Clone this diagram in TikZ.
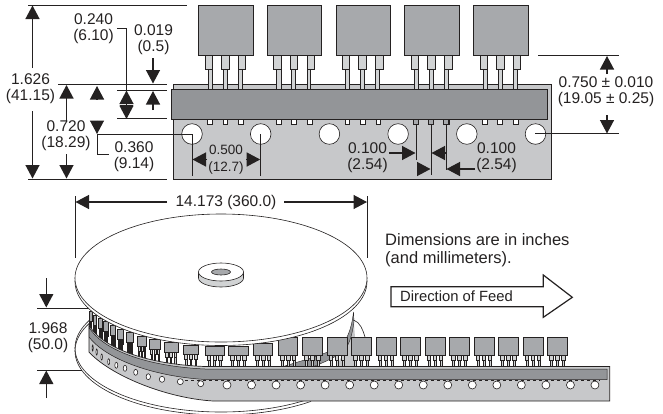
\documentclass[tikz,border=0pt]{standalone}
\usepackage{tikz}
\usepackage{xcolor}
\usepackage{fontspec}
\setmainfont{Liberation Sans}
\usetikzlibrary{arrows.meta}
\definecolor{ink}  {rgb}{0.14,0.13,0.13}
\definecolor{corpo}{rgb}{0.655,0.663,0.675}
\definecolor{faixa}{rgb}{0.576,0.584,0.596}
\definecolor{fita} {rgb}{0.780,0.784,0.792}
\definecolor{pino} {rgb}{0.820,0.827,0.831}
\tikzset{
  dimline/.style={ink,line width=0.6pt},
  dimarrow/.style={ink,line width=1.3pt,-{Triangle[length=13.5pt,width=14pt]}},
  dimlabel/.style={ink,inner sep=0pt,align=center,font=\fontsize{15.5}{16}\selectfont},
  smalllabel/.style={ink,inner sep=0pt,align=center,font=\fontsize{13.5}{16.5}\selectfont},
  notelabel/.style={ink,inner sep=0pt,align=left,font=\fontsize{16.5}{18}\selectfont},
  corpobox/.style={fill=corpo,draw=ink,line width=0.6pt},
  pinobox/.style={fill=pino,draw=ink,line width=0.5pt},
  furo/.style={fill=white,draw=ink,line width=0.6pt},
  flange/.style={fill=white,draw=ink,line width=0.6pt}
}
\newcommand{\reelpart}[5]{%
  \begin{scope}[shift={(#1,#2)},xscale=#3/20]
    \foreach \px in {4,10,16}{
      \filldraw[pinobox] (\px-1,#4) rectangle (\px+1,#4+#5);
      \filldraw[pinobox] (\px-1.8,#4) rectangle (\px+1.8,#4+5);
    }
    \filldraw[corpobox] (0,0) rectangle (20,#4);
  \end{scope}}
\begin{document}
\begin{tikzpicture}[x=1pt,y=-1pt]
\useasboundingbox (0,0) rectangle (663,413);
% fita com os componentes
\filldraw[fill=fita,draw=ink,line width=0.7pt] (173,84) rectangle (551.7,179.5);
\foreach \n in {0,...,4}{
  \begin{scope}[shift={(198.5+68.7*\n,0)}]
    \foreach \ax/\bx/\cx/\dx in {6.5/9.5/13.8/13.8, 22.8/24.5/28.5/30.5, 39.8/39.8/43.5/47.2}{
      \filldraw[pinobox] (\bx,69) rectangle (\cx,89.5);
      \filldraw[pinobox] (\ax,55.5) rectangle (\dx,69);
    }
    \filldraw[corpobox] (0,5) rectangle (54.5,55.5);
    \foreach \sx in {11.5,26.7,42.5}
      \filldraw[fill=white,draw=ink,line width=0.6pt] (\sx-2.3,119.5) rectangle (\sx+2.3,124.5);
  \end{scope}
}
\foreach \sx in {416,431,446}
  \filldraw[fill=corpo,draw=ink,line width=0.6pt] (\sx-2.3,119.5) rectangle (\sx+2.3,124.5);
\filldraw[fill=faixa,draw=ink,line width=0.8pt] (171.5,89.5) rectangle (547.5,119.5);
\foreach \n in {0,...,5}
  \filldraw[furo] (192+68.7*\n,134) circle(10.3pt);
% cotas da parte de cima
\draw[dimline] (28,5) -- (187,5);
\draw[dimline] (28,179) -- (167,179);
\draw[dimline] (58,84.5) -- (167,84.5);
\draw[dimline] (117,90) -- (167,90);
\draw[dimline] (117,118.7) -- (167,118.7);
\draw[dimarrow] (32.5,68) -- (32.5,5.5);
\draw[dimarrow] (32.5,111) -- (32.5,178.5);
\node[dimlabel] (alturatotal) at (30.5,89) {1.626\\(41.15)};
\draw[dimarrow] (66.5,121) -- (66.5,85);
\draw[dimarrow] (66.5,154) -- (66.5,178.5);
\node[dimlabel] (alturafuro) at (66,136) {0.720\\(18.29)};
\draw[dimarrow] (97,99.5) -- (97,86);
\draw[dimarrow] (97,120.5) -- (97,134);
\draw[dimline] (192,134.3) -- (97,134.3) -- (97,154.5) -- (109,154.5);
\node[dimlabel] (meiofuro) at (134,156.5) {0.360\\(9.14)};
\node[dimlabel] (faixacota) at (93.5,28.5) {0.240\\(6.10)};
\draw[dimline] (117,28.5) -- (126.5,28.5) -- (126.5,103);
\draw[dimarrow] (126.5,104) -- (126.5,90.5);
\draw[dimarrow] (126.5,105.5) -- (126.5,119);
\draw[dimline] (120,105) -- (133,105);
\node[dimlabel] (margem) at (153.5,40) {0.019\\(0.5)};
\draw[dimarrow] (153,58) -- (153,83.5);
\draw[dimarrow] (153,110) -- (153,91);
\draw[dimline] (192,134) -- (192,176);
\draw[dimline] (260.7,134) -- (260.7,176);
\draw[dimarrow] (207,159.5) -- (192.5,159.5);
\draw[dimarrow] (246,159.5) -- (260.2,159.5);
\node[smalllabel] (passo) at (226,159.5) {0.500\\(12.7)};
\draw[dimline] (538,55.5) -- (619,55.5);
\draw[dimline] (535.3,133.7) -- (619,133.7);
\draw[dimarrow] (607,74) -- (607,56);
\draw[dimarrow] (607,115) -- (607,133.5);
\node[dimlabel] (alturapino) at (606,92) {0.750 ± 0.010\\(19.05 ± 0.25)};
\draw[dimline,line width=0.8pt] (416,124.5) -- (416,160);
\draw[dimline,line width=0.8pt] (431,124.5) -- (431,175);
\draw[dimline,line width=0.8pt] (446,124.5) -- (446,170);
\node[dimlabel] (pinoa) at (367.5,158) {0.100\\(2.54)};
\node[dimlabel] (pinob) at (496.5,158) {0.100\\(2.54)};
\draw[dimarrow] (389,153) -- (415.5,153);
\draw[dimarrow] (445,153) -- (431.5,153);
\draw[dimarrow] (417,169) -- (430.5,169);
\draw[dimarrow] (475,169) -- (446.5,169);
% bobina
\begin{scope}
  \clip (0,320) rectangle (311,413);
  \draw[ink,line width=0.6pt] (221,351) ellipse[x radius=146pt,y radius=64pt];
  \draw[ink,line width=0.6pt] (221,348) ellipse[x radius=146pt,y radius=64pt];
\end{scope}
\draw[ink,line width=0.6pt] (89,311) -- (89,352);
\fill[fita] (335,368) -- (345.5,350) .. controls (350,340) and (352,328) .. (353.5,318) -- (355,337) -- (356,369) -- cycle;
\filldraw[fill=faixa,draw=ink,line width=0.4pt] (285,366) .. controls (310,358) and (335,352) .. (344,342) .. controls (349,335) and (352,325) .. (353.5,312) -- (354,322) .. controls (352,335) and (350,342) .. (345,350) .. controls (335,358) and (320,364) .. (310,368) -- cycle;
\draw[ink,line width=0.6pt] (353.5,320) .. controls (360,322) and (363,330) .. (365,337);
\foreach \rx/\ry/\rw/\rh/\rl in {89.3/311/2.7/10.7/12, 93/315/3.7/10/13, 98.3/318.3/4.4/10/13,
    103.3/321/5/10.7/13, 110.3/325/5.4/10.3/14, 117.3/329/6.4/10/14, 126/332.7/7.3/9.6/14,
    137.3/336/9.4/10.7/14, 149.3/339/11.4/10.3/15, 164/342.7/14/9.3/15, 183/345/15.7/9.3/14,
    205/346.7/19/8.3/14.5, 228.3/346/20/9/14.5, 253.3/343.7/19.4/11.3/14.5, 278.3/337/19.4/18/14}
  \reelpart{\rx}{\ry}{\rw}{\rh}{\rl};
\foreach \n in {0,...,10}
  \reelpart{302.3+24.5*\n}{337.3}{20}{18.4}{14};
\filldraw[fill=fita,draw=ink,line width=0.7pt] (89,325) .. controls (100,345) and (140,364) .. (205,366.5) -- (609.7,366.5) -- (609.7,401) -- (213,401) .. controls (165,398) and (110,375) .. (89,352) -- cycle;
\filldraw[fill=faixa,draw=ink,line width=0.5pt] (89,327) .. controls (100,347) and (140,366) .. (205,369) -- (607,369) -- (607,379.5) -- (205,379.5) .. controls (150,376) and (105,358) .. (89,337) -- cycle;
\draw[ink,line width=0.5pt,dashed] (185,380.5) -- (600,380.5);
\foreach \hx/\hy/\hr in {92.7/348/0.6, 96.7/352/0.7, 101.7/357/0.8, 108.7/361.7/1, 116.3/365.3/1.5,
    125/368.3/1.8, 135.7/372.3/2, 148.3/376.7/2.2, 162/379.3/2.7, 180.3/381.7/3, 200.7/383.7/3}
  \filldraw[furo] (\hx,\hy) ellipse[x radius=\hr pt,y radius=3pt];
\foreach \n in {0,...,15}
  \filldraw[furo] (227+24.53*\n,385) circle(4pt);
\filldraw[flange] (221,281.5) ellipse[x radius=146pt,y radius=64pt];
\filldraw[flange] (221,278) ellipse[x radius=146pt,y radius=64pt];
\filldraw[fill=pino,draw=ink,line width=0.6pt] (198.5,272) -- (198.5,278) arc[start angle=180,end angle=360,x radius=22.5pt,y radius=9pt] -- (243.5,272) -- cycle;
\filldraw[flange] (221,272) ellipse[x radius=22.5pt,y radius=9pt];
\filldraw[fill=corpo,draw=ink,line width=0.6pt] (221,272) ellipse[x radius=9.5pt,y radius=3pt];
% cotas da bobina
\draw[dimline] (75.5,196) -- (75.5,258);
\draw[dimline] (367,196) -- (367,258);
\node[dimlabel] (diametro) at (226,202) {14.173 (360.0)};
\draw[dimarrow] (167,202) -- (75.5,202);
\draw[dimarrow] (284,202) -- (367,202);
\draw[dimline] (37,308) -- (88,308);
\draw[dimline] (37,370) -- (82,370);
\draw[dimarrow] (46.3,278) -- (46.3,307.5);
\draw[dimarrow] (46.3,398) -- (46.3,370.5);
\node[dimlabel] (largura) at (48,338) {1.968\\(50.0)};
\node[notelabel,anchor=north west] (nota) at (385,233) {Dimensions are in inches\\(and millimeters).};
\filldraw[fill=white,draw=ink,line width=1.2pt] (391,286.7) -- (543.3,286.7) -- (543.3,275) -- (572.3,297.3) -- (543.3,317.3) -- (543.3,306.7) -- (391,306.7) -- cycle;
\node[ink,inner sep=0pt,anchor=west,font=\fontsize{14.8}{16}\selectfont] (avanco) at (400,296) {Direction of Feed};
\end{tikzpicture}
\end{document}
